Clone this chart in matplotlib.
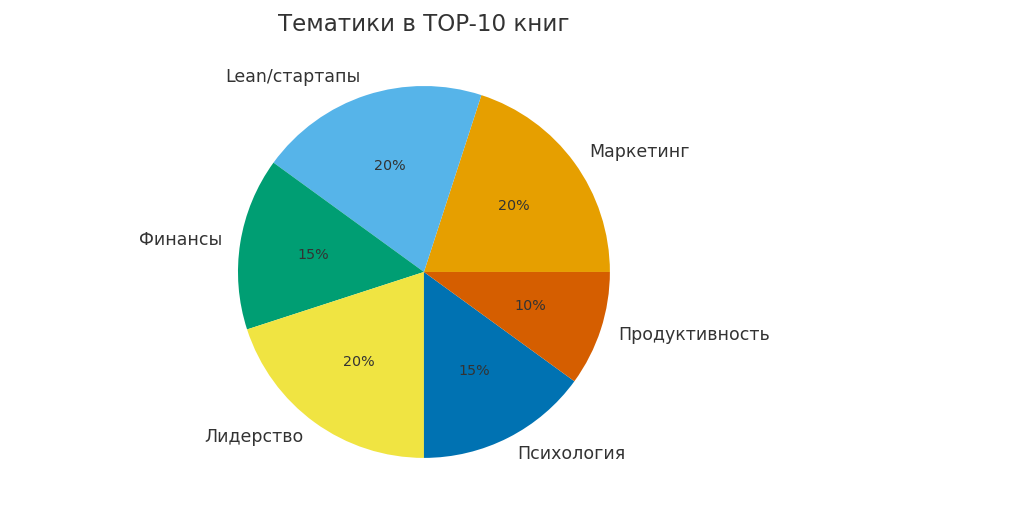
import matplotlib
matplotlib.use("Agg")
import matplotlib.pyplot as plt

topics = ["Маркетинг", "Lean/стартапы", "Финансы", "Лидерство", "Психология", "Продуктивность"]
shares = [20, 20, 15, 20, 15, 10]
colors = ["#E69F00", "#56B4E9", "#009E73", "#F0E442", "#0072B2", "#D55E00"]

plt.rcParams['font.family'] = ['DejaVu Sans']
plt.rcParams['text.color'] = '#333333'

fig = plt.figure(figsize=(10.24, 5.2), dpi=100)
ax = fig.add_axes([0.187, 0.03, 0.454, 0.894])

ax.pie(shares, labels=topics, colors=colors, autopct='%1.0f%%',
       startangle=0, textprops={'fontsize': 12.5, 'color': '#333333'})
for t in ax.texts:
    if t.get_text().endswith('%'):
        t.set_fontsize(10.3)
ax.set_title("Тематики в TOP-10 книг", fontsize=16.6, color='#333333')
ax.set_aspect('equal')

fig.savefig("out.png", dpi=100)
